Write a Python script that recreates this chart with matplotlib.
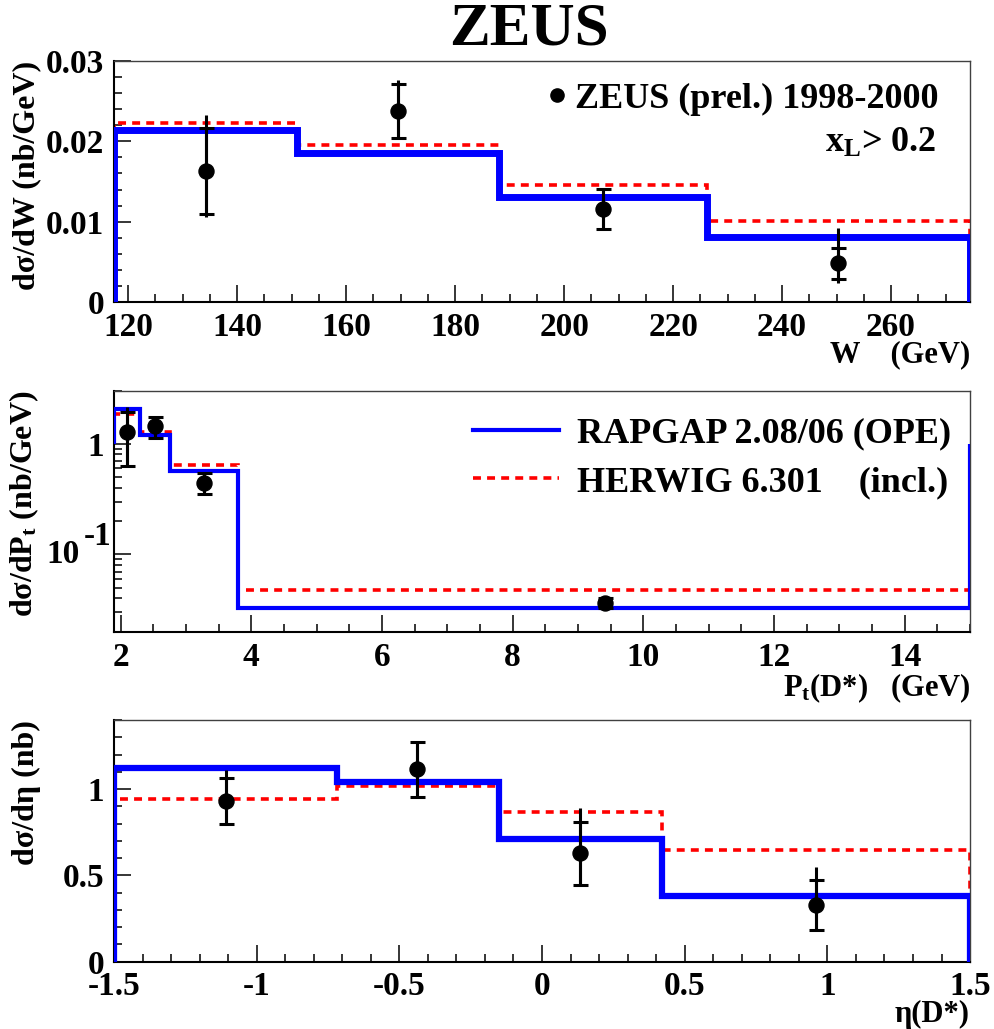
import numpy as np
import matplotlib
matplotlib.use("Agg")
import matplotlib.pyplot as plt
from matplotlib.ticker import MultipleLocator, FuncFormatter, NullFormatter, LogLocator, FixedLocator
from matplotlib.lines import Line2D
import matplotlib.transforms as mtransforms

plt.rcParams['font.family'] = ['Liberation Serif', 'DejaVu Serif']
plt.rcParams['font.weight'] = 'bold'
plt.rcParams['axes.labelweight'] = 'bold'
plt.rcParams['mathtext.fontset'] = 'custom'
plt.rcParams['mathtext.rm'] = 'Liberation Serif:bold'
plt.rcParams['mathtext.it'] = 'Liberation Serif:bold'
plt.rcParams['mathtext.bf'] = 'Liberation Serif:bold'

# ---- W distribution
w_edges = [117.4, 151.0, 188.1, 226.2, 274.5]
rapgap_w = [0.0214, 0.0185, 0.0131, 0.0081]
herwig_w = [0.0223, 0.0196, 0.0146, 0.0101]
w_x = [134.3, 169.6, 207.2, 250.3]
w_val = [0.0163, 0.0238, 0.0116, 0.0048]
w_stat = [0.0054, 0.0034, 0.0025, 0.0019]
w_tot_up = [0.0070, 0.0038, 0.0025, 0.0044]
w_tot_dn = [0.0057, 0.0035, 0.0025, 0.0024]

# ---- Pt distribution
pt_edges = [1.9, 2.3, 2.75, 3.8, 15.0]
rapgap_pt = [2.05, 1.20, 0.57, 0.0326]
herwig_pt = [1.85, 1.27, 0.646, 0.0477]
pt_x = [2.10, 2.52, 3.27, 9.41]
pt_val = [1.26, 1.44, 0.439, 0.0366]
pt_stat_up = [0.66, 0.31, 0.10, 0.004]
pt_stat_dn = [0.63, 0.31, 0.09, 0.004]
pt_tot_up = [0.86, 0.31, 0.10, 0.004]
pt_tot_dn = [0.63, 0.31, 0.09, 0.004]
pt_base = 1.0   # ROOT draws the outer edges of the log histo down to 1

# ---- eta distribution
eta_edges = [-1.5, -0.72, -0.15, 0.42, 1.5]
rapgap_eta = [1.12, 1.042, 0.71, 0.382]
herwig_eta = [0.94, 1.017, 0.865, 0.647]
eta_x = [-1.108, -0.439, 0.133, 0.961]
eta_val = [0.932, 1.114, 0.628, 0.328]
eta_stat = [0.133, 0.159, 0.183, 0.145]
eta_tot_up = [0.178, 0.16, 0.26, 0.219]
eta_tot_dn = [0.135, 0.159, 0.184, 0.14]

BLUE = '#0000ff'
RED = '#ff0000'
FS_TICK = 24
FS_LAB = 23
FS_LEG = 26
LW_RED = 2.6
DASH = (0, (2.2, 1.7))

fig = plt.figure(figsize=(9.94, 10.29), dpi=100)
ax1 = fig.add_axes([0.1147, 0.7065, 0.8612, 0.2342])
ax2 = fig.add_axes([0.1147, 0.3855, 0.8612, 0.2348])
ax3 = fig.add_axes([0.1147, 0.0654, 0.8612, 0.2349])


def style(ax):
    ax.tick_params(which='both', direction='in', top=False, right=False,
                   labelsize=FS_TICK, width=1.1)
    ax.tick_params(which='major', length=12, pad=7)
    ax.tick_params(which='minor', length=6)
    for s in ['left', 'bottom']:
        ax.spines[s].set_linewidth(1.5)
    for s in ['top', 'right']:
        ax.spines[s].set_linewidth(1.0)
        ax.spines[s].set_color('0.25')


def data_points(ax, x, y, stat_dn, stat_up, tot_dn, tot_up):
    ax.errorbar(x, y, yerr=[tot_dn, tot_up], fmt='none', ecolor='k',
                elinewidth=2.2, capsize=0, zorder=5)
    ax.errorbar(x, y, yerr=[stat_dn, stat_up], fmt='o', color='k', ms=10.8,
                elinewidth=2.2, capsize=5.4, capthick=2.2, zorder=6)


gfmt = FuncFormatter(lambda v, p: '%g' % v)

# top panel
ax = ax1
ax.stairs(herwig_w, w_edges, baseline=0, color=RED, lw=LW_RED, ls=DASH, zorder=2)
ax.stairs(rapgap_w, w_edges, baseline=0, color=BLUE, lw=5, zorder=3)
data_points(ax, w_x, w_val, w_stat, w_stat, w_tot_dn, w_tot_up)
ax.set_xlim(w_edges[0], w_edges[-1])
ax.set_ylim(0, 0.03)
ax.xaxis.set_major_locator(MultipleLocator(20))
ax.xaxis.set_minor_locator(MultipleLocator(5))
ax.yaxis.set_major_locator(MultipleLocator(0.01))
ax.yaxis.set_minor_locator(MultipleLocator(0.002))
ax.yaxis.set_major_formatter(gfmt)
style(ax)
ax.set_ylabel('dσ/dW (nb/GeV)', fontsize=FS_LAB, loc='top')
ax.set_xlabel('W    (GeV)', fontsize=FS_LAB - 1, loc='right')
h = [Line2D([], [], ls='none', marker='o', color='k', ms=9.5)]
ax.legend(h, ['ZEUS (prel.) 1998-2000'], loc='center right',
          bbox_to_anchor=(0.963, 0.842), frameon=False, fontsize=FS_LEG,
          handlelength=0.5, handletextpad=0.25, borderpad=0, borderaxespad=0)
ax.text(0.96, 0.66, r'$\mathrm{x_L}$> 0.2', transform=ax.transAxes,
        ha='right', va='center', fontsize=FS_LEG)

# middle panel
ax = ax2
ax.set_yscale('log')
ax.stairs(herwig_pt, pt_edges, baseline=pt_base, color=RED, lw=LW_RED, ls=DASH, zorder=2)
ax.stairs(rapgap_pt, pt_edges, baseline=pt_base, color=BLUE, lw=3, zorder=3)
data_points(ax, pt_x, pt_val, pt_stat_dn, pt_stat_up, pt_tot_dn, pt_tot_up)
ax.set_xlim(pt_edges[0], pt_edges[-1])
ax.set_ylim(0.0198, 3.0)
ax.xaxis.set_major_locator(MultipleLocator(2))
ax.xaxis.set_minor_locator(MultipleLocator(0.5))
ax.yaxis.set_major_locator(FixedLocator([0.1, 1]))
ax.yaxis.set_major_formatter(FuncFormatter(lambda v, p: '1' if v == 1 else ''))
ax.yaxis.set_minor_locator(LogLocator(base=10, subs=np.arange(2, 10)))
ax.yaxis.set_minor_formatter(NullFormatter())
style(ax)
trans = mtransforms.blended_transform_factory(ax.transAxes, ax.transData)
ax.text(-0.04, 0.1, '10', transform=trans, ha='right', va='center', fontsize=FS_TICK)
ax.annotate('-1', xy=(-0.003, 0.1), xycoords=trans, xytext=(0, 13),
            textcoords='offset points', ha='right', va='center', fontsize=FS_TICK)
ax.set_ylabel(r'dσ/dP$_\mathrm{t}$ (nb/GeV)', fontsize=FS_LAB, loc='top')
ax.set_xlabel(r'P$_\mathrm{t}$(D*)   (GeV)', fontsize=FS_LAB - 1, loc='right')
h = [Line2D([], [], color=BLUE, lw=3), Line2D([], [], color=RED, lw=LW_RED, ls=DASH)]
ax.legend(h, ['RAPGAP 2.08/06 (OPE)', 'HERWIG 6.301    (incl.)'], loc='upper left',
          bbox_to_anchor=(0.419, 0.89), frameon=False, fontsize=FS_LEG,
          handlelength=2.4, handletextpad=0.5, labelspacing=0.42,
          borderpad=0, borderaxespad=0)

# bottom panel
ax = ax3
ax.stairs(herwig_eta, eta_edges, baseline=0, color=RED, lw=LW_RED, ls=DASH, zorder=2)
ax.stairs(rapgap_eta, eta_edges, baseline=0, color=BLUE, lw=4.5, zorder=3)
data_points(ax, eta_x, eta_val, eta_stat, eta_stat, eta_tot_dn, eta_tot_up)
ax.set_xlim(eta_edges[0], eta_edges[-1])
ax.set_ylim(0, 1.4)
ax.xaxis.set_major_locator(MultipleLocator(0.5))
ax.xaxis.set_minor_locator(MultipleLocator(0.1))
ax.yaxis.set_major_locator(MultipleLocator(0.5))
ax.yaxis.set_minor_locator(MultipleLocator(0.1))
ax.xaxis.set_major_formatter(gfmt)
ax.yaxis.set_major_formatter(gfmt)
style(ax)
ax.set_ylabel('dσ/dη (nb)', fontsize=FS_LAB, loc='top')
ax.set_xlabel('η(D*)', fontsize=FS_LAB - 1, loc='right')

for a in (ax1, ax2, ax3):
    a.yaxis.set_label_coords(-0.085, 1.0)
    a.xaxis.set_label_coords(1.0, -0.16)

fig.text(0.532, 0.971, 'ZEUS', ha='center', va='center', fontsize=44)

fig.savefig('out.png', dpi=100)
